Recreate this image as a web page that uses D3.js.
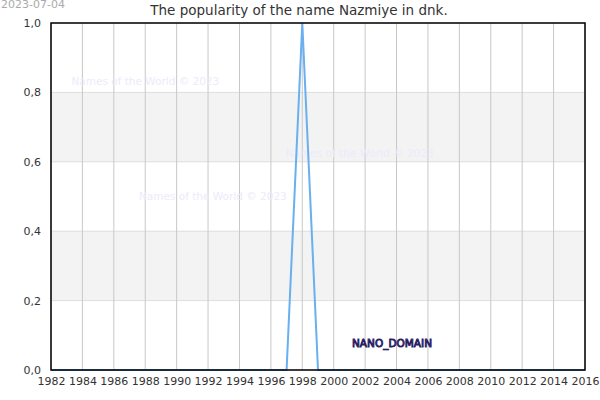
<!DOCTYPE html>
<html>
<head>
<meta charset="utf-8">
<script src="https://cdn.jsdelivr.net/npm/d3@7"></script>
<style>
  body { margin: 0; background: #fff; }
  text { font-family: "DejaVu Sans", sans-serif; }
</style>
</head>
<body>
<div id="chart"></div>
<script>
// popularity per year
const years = d3.range(1982, 2017);
const values = [0,0,0,0,0,0,0,0,0,0,0,0,0,0,0,0,1,0,0,0,0,0,0,0,0,0,0,0,0,0,0,0,0,0,0];
const xTicks = d3.range(1982, 2017, 2);
const yTicks = [0, 0.2, 0.4, 0.6, 0.8, 1.0];
const bands = [[0.2, 0.4], [0.6, 0.8]];
const watermarks = [
    { x: 1983.3, y: 0.821 },
    { x: 1996.95, y: 0.614 },
    { x: 1987.6, y: 0.49 }
];

const width = 600, height = 400;
const margin = { top: 23, right: 15, bottom: 30, left: 51 };

const svg = d3.select('#chart').append('svg')
    .attr('width', width)
    .attr('height', height);

const xScale = d3.scaleLinear()
    .domain([1982, 2016])
    .range([margin.left, width - margin.right]);

const yScale = d3.scaleLinear()
    .domain([0, 1])
    .range([height - margin.bottom, margin.top]);

// shaded bands
svg.selectAll('rect.band')
    .data(bands)
    .enter().append('rect')
    .attr('class', 'band')
    .attr('x', xScale(1982))
    .attr('width', xScale(2016) - xScale(1982))
    .attr('y', d => yScale(d[1]))
    .attr('height', d => yScale(d[0]) - yScale(d[1]))
    .attr('fill', '#f3f3f3');

// horizontal grid
svg.selectAll('line.hgrid')
    .data(yTicks)
    .enter().append('line')
    .attr('x1', xScale(1982))
    .attr('x2', xScale(2016))
    .attr('y1', d => yScale(d))
    .attr('y2', d => yScale(d))
    .attr('stroke', '#dddddd');

// vertical grid
svg.selectAll('line.vgrid')
    .data(xTicks)
    .enter().append('line')
    .attr('x1', d => xScale(d))
    .attr('x2', d => xScale(d))
    .attr('y1', yScale(0))
    .attr('y2', yScale(1))
    .attr('stroke', '#c8c8c8');

// watermarks
svg.selectAll('text.wm')
    .data(watermarks)
    .enter().append('text')
    .attr('x', d => xScale(d.x))
    .attr('y', d => yScale(d.y))
    .attr('font-size', 10.5)
    .attr('fill', '#ebebfb')
    .text('Names of the World © 2023');

// the line
const line = d3.line()
    .x((d, i) => xScale(years[i]))
    .y(d => yScale(d));

svg.append('path')
    .datum(values)
    .attr('d', line)
    .attr('fill', 'none')
    .attr('stroke', '#6aaff0')
    .attr('stroke-width', 2);

// frame
svg.append('rect')
    .attr('x', xScale(1982))
    .attr('y', yScale(1))
    .attr('width', xScale(2016) - xScale(1982))
    .attr('height', yScale(0) - yScale(1))
    .attr('fill', 'none')
    .attr('stroke', '#000')
    .attr('stroke-width', 1.5);

// axes
const xAxis = svg.append('g')
    .attr('transform', `translate(0, ${yScale(0)})`)
    .call(d3.axisBottom(xScale).tickValues(xTicks).tickFormat(d3.format('d')).tickSize(0).tickPadding(7));
xAxis.select('.domain').remove();
xAxis.selectAll('text')
    .attr('font-size', 11)
    .attr('font-family', 'DejaVu Sans')
    .attr('fill', '#333');

const yAxis = svg.append('g')
    .attr('transform', `translate(${xScale(1982)}, 0)`)
    .call(d3.axisLeft(yScale).tickValues(yTicks).tickFormat(d => d.toFixed(1).replace('.', ',')).tickSize(0).tickPadding(10));
yAxis.select('.domain').remove();
yAxis.selectAll('text')
    .attr('font-size', 11)
    .attr('font-family', 'DejaVu Sans')
    .attr('fill', '#333');

// title
svg.append('text')
    .attr('x', 299)
    .attr('y', 15)
    .attr('text-anchor', 'middle')
    .attr('font-size', 13.5)
    .attr('fill', '#333')
    .text('The popularity of the name Nazmiye in dnk.');

svg.append('text')
    .attr('x', 1)
    .attr('y', 8)
    .attr('font-size', 11)
    .attr('fill', '#aaa')
    .text('2023-07-04');

svg.append('text')
    .attr('x', 352)
    .attr('y', yScale(0.067))
    .attr('font-size', 10.5)
    .attr('fill', '#6a5cb8')
    .attr('stroke', '#2b1f66')
    .attr('stroke-width', 0.9)
    .attr('textLength', 80)
    .text('NANO_DOMAIN');
</script>
</body>
</html>
